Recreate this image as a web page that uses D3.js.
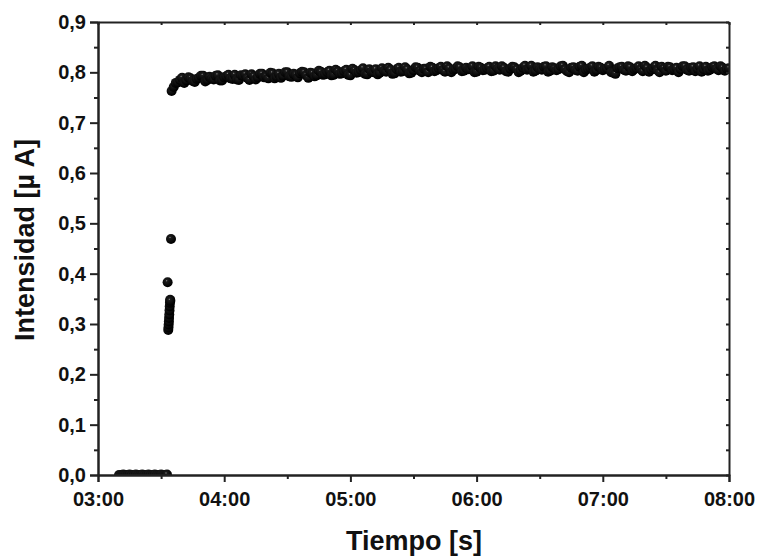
<!DOCTYPE html>
<html lang="es">
<head>
<meta charset="UTF-8">
<title>Intensidad vs Tiempo</title>
<style>
  body { margin: 0; background: #fff; }
  svg { display: block; font-family: "Liberation Sans", Arial, sans-serif; }
  .tick text { font-size: 20px; font-weight: bold; fill: #111; }
  .domain, .tick line { stroke: #222; stroke-width: 2px; }
  .axis-title { font-size: 27px; font-weight: bold; fill: #111; text-anchor: middle; }
</style>
</head>
<body>
<div id="chart"></div>
<script src="https://d3js.org/d3.v7.min.js"></script>
<script>
// tiempo en segundos (03:00 = 180 s)
var xTicks = [180, 240, 300, 360, 420, 480];
var xTickLabels = ["03:00", "04:00", "05:00", "06:00", "07:00", "08:00"];
var yTicks = [0, 0.1, 0.2, 0.3, 0.4, 0.5, 0.6, 0.7, 0.8, 0.9];
var yTickLabels = ["0,0", "0,1", "0,2", "0,3", "0,4", "0,5", "0,6", "0,7", "0,8", "0,9"];

// tramo en cero antes de aplicar la tension
var tBase = [190, 191, 192, 193, 194, 195, 196, 197, 198, 199, 200, 201, 202, 203, 204, 205,
  206, 207, 208, 209, 210, 211, 212, 212.8];
var iBase = [0.000, 0.000, 0.001, 0.000, 0.000, 0.001, 0.000, 0.000, 0.001, 0.000, 0.000, 0.001,
  0.000, 0.000, 0.001, 0.000, 0.000, 0.001, 0.000, 0.000, 0.001, 0.000, 0.000, 0.001];

// subida
var tSalto = [213.1, 213.4, 213.5, 213.6, 213.7, 213.8, 213.9, 214.0, 214.1, 214.2, 214.3, 214.4, 214.7];
var iSalto = [0.383, 0.288, 0.293, 0.299, 0.305, 0.312, 0.319, 0.327, 0.335, 0.342, 0.348, 0.346, 0.469];

// meseta (segundos impares)
var tMeseta = [215, 216, 217, 219, 221, 223, 225, 227, 229, 231, 233, 235, 237, 239, 241, 243, 245,
  247, 249, 251, 253, 255, 257, 259, 261, 263, 265, 267, 269, 271, 273, 275, 277, 279, 281, 283, 285,
  287, 289, 291, 293, 295, 297, 299, 301, 303, 305, 307, 309, 311, 313, 315, 317, 319, 321, 323, 325,
  327, 329, 331, 333, 335, 337, 339, 341, 343, 345, 347, 349, 351, 353, 355, 357, 359, 361, 363, 365,
  367, 369, 371, 373, 375, 377, 379, 381, 383, 385, 387, 389, 391, 393, 395, 397, 399, 401, 403, 405,
  407, 409, 411, 413, 415, 417, 419, 421, 423, 425, 427, 429, 431, 433, 435, 437, 439, 441, 443, 445,
  447, 449, 451, 453, 455, 457, 459, 461, 463, 465, 467, 469, 471, 473, 475, 477, 479];
var iMeseta = [0.763, 0.771, 0.779, 0.785, 0.779, 0.790, 0.783, 0.787, 0.793, 0.782, 0.791, 0.786, 0.794,
  0.784, 0.792, 0.788, 0.795, 0.785, 0.793, 0.789, 0.796, 0.786, 0.797, 0.790, 0.788, 0.798, 0.791,
  0.789, 0.800, 0.792, 0.797, 0.790, 0.801, 0.794, 0.799, 0.792, 0.803, 0.795, 0.800, 0.794, 0.805,
  0.797, 0.802, 0.795, 0.807, 0.799, 0.804, 0.797, 0.806, 0.800, 0.796, 0.808, 0.801, 0.805, 0.798,
  0.809, 0.802, 0.806, 0.799, 0.810, 0.803, 0.807, 0.800, 0.809, 0.804, 0.811, 0.801, 0.808, 0.805,
  0.812, 0.802, 0.809, 0.806, 0.800, 0.811, 0.804, 0.808, 0.802, 0.812, 0.805, 0.809, 0.801, 0.811,
  0.806, 0.803, 0.813, 0.807, 0.801, 0.810, 0.805, 0.812, 0.803, 0.808, 0.806, 0.813, 0.802, 0.809,
  0.805, 0.811, 0.800, 0.807, 0.812, 0.804, 0.809, 0.806, 0.813, 0.799, 0.808, 0.811, 0.803, 0.810,
  0.806, 0.812, 0.802, 0.809, 0.805, 0.813, 0.800, 0.808, 0.811, 0.804, 0.809, 0.806, 0.812, 0.803,
  0.810, 0.807, 0.801, 0.811, 0.805, 0.812, 0.804, 0.809, 0.807];

// meseta (segundos pares)
var tMeseta2 = [218, 220, 222, 224, 226, 228, 230, 232, 234, 236, 238, 240, 242, 244, 246, 248, 250,
  252, 254, 256, 258, 260, 262, 264, 266, 268, 270, 272, 274, 276, 278, 280, 282, 284, 286, 288, 290,
  292, 294, 296, 298, 300, 302, 304, 306, 308, 310, 312, 314, 316, 318, 320, 322, 324, 326, 328, 330,
  332, 334, 336, 338, 340, 342, 344, 346, 348, 350, 352, 354, 356, 358, 360, 362, 364, 366, 368, 370,
  372, 374, 376, 378, 380, 382, 384, 386, 388, 390, 392, 394, 396, 398, 400, 402, 404, 406, 408, 410,
  412, 414, 416, 418, 420, 422, 424, 426, 428, 430, 432, 434, 436, 438, 440, 442, 444, 446, 448, 450,
  452, 454, 456, 458, 460, 462, 464, 466, 468, 470, 472, 474, 476, 478, 480];
var iMeseta2 = [0.780, 0.789, 0.784, 0.788, 0.781, 0.789, 0.793, 0.785, 0.788, 0.793, 0.784, 0.790,
  0.795, 0.787, 0.786, 0.794, 0.796, 0.785, 0.792, 0.790, 0.797, 0.792, 0.799, 0.788, 0.797, 0.793,
  0.800, 0.791, 0.795, 0.798, 0.800, 0.789, 0.798, 0.794, 0.801, 0.796, 0.803, 0.795, 0.802, 0.798,
  0.805, 0.794, 0.804, 0.800, 0.808, 0.796, 0.801, 0.806, 0.799, 0.803, 0.809, 0.797, 0.806, 0.801,
  0.810, 0.798, 0.804, 0.809, 0.800, 0.807, 0.811, 0.802, 0.808, 0.804, 0.812, 0.800, 0.807, 0.810,
  0.803, 0.806, 0.812, 0.801, 0.809, 0.805, 0.811, 0.803, 0.808, 0.812, 0.802, 0.807, 0.810, 0.800,
  0.809, 0.805, 0.813, 0.803, 0.807, 0.811, 0.801, 0.810, 0.804, 0.812, 0.806, 0.800, 0.810, 0.803,
  0.813, 0.805, 0.809, 0.801, 0.811, 0.804, 0.808, 0.800, 0.797, 0.810, 0.805, 0.812, 0.802, 0.808,
  0.806, 0.813, 0.801, 0.809, 0.804, 0.811, 0.803, 0.810, 0.806, 0.800, 0.812, 0.805, 0.809, 0.802,
  0.812, 0.806, 0.803, 0.810, 0.807, 0.812, 0.803, 0.808];

var width = 757, height = 556;
var margin = { left: 98, right: 28, top: 22, bottom: 81 };

var svg = d3.select("#chart").append("svg")
  .attr("width", width)
  .attr("height", height);

var x = d3.scaleLinear().domain([180, 480]).range([margin.left, width - margin.right]);
var y = d3.scaleLinear().domain([0, 0.9]).range([height - margin.bottom, margin.top]);

var xMinor = xTicks.slice(0, -1).map(function(d) { return d + 30; });
var yMinor = yTicks.slice(0, -1).map(function(d) { return d + 0.05; });

// marcador con brillo
var defs = svg.append("defs");
var grad = defs.append("radialGradient").attr("id", "bola")
  .attr("cx", "40%").attr("cy", "35%").attr("r", "60%");
grad.append("stop").attr("offset", "0%").attr("stop-color", "#8a8a8a");
grad.append("stop").attr("offset", "18%").attr("stop-color", "#1c1c1c");
grad.append("stop").attr("offset", "100%").attr("stop-color", "#000");

defs.append("clipPath").attr("id", "plot-clip")
  .append("rect")
  .attr("x", margin.left).attr("y", margin.top)
  .attr("width", x.range()[1] - margin.left)
  .attr("height", y.range()[0] - margin.top);

var puntos = [];
[[tBase, iBase], [tSalto, iSalto], [tMeseta, iMeseta], [tMeseta2, iMeseta2]].forEach(function(s) {
  var n = Math.min(s[0].length, s[1].length);
  for (var i = 0; i < n; i++) puntos.push({ t: s[0][i], v: s[1][i] });
});
puntos.sort(function(a, b) { return a.t - b.t; });

svg.append("g")
  .attr("clip-path", "url(#plot-clip)")
  .selectAll("circle")
  .data(puntos)
  .enter().append("circle")
  .attr("cx", function(d) { return x(d.t); })
  .attr("cy", function(d) { return y(d.v); })
  .attr("r", 5)
  .attr("fill", "url(#bola)");

var fmtX = function(d) { return xTickLabels[xTicks.indexOf(d)]; };
var fmtY = function(d) { return yTickLabels[yTicks.indexOf(d)]; };
var bottomY = y(0), rightX = x(480);

// ejes principales
svg.append("g").attr("transform", "translate(0," + bottomY + ")")
  .call(d3.axisBottom(x).tickValues(xTicks).tickFormat(fmtX).tickSize(7).tickPadding(10));
svg.append("g").attr("transform", "translate(0," + bottomY + ")")
  .call(d3.axisBottom(x).tickValues(xMinor).tickFormat("").tickSize(4).tickSizeOuter(0));
svg.append("g").attr("transform", "translate(" + margin.left + ",0)")
  .call(d3.axisLeft(y).tickValues(yTicks).tickFormat(fmtY).tickSize(8).tickPadding(4));
svg.append("g").attr("transform", "translate(" + margin.left + ",0)")
  .call(d3.axisLeft(y).tickValues(yMinor).tickFormat("").tickSize(4).tickSizeOuter(0));

// marco superior y derecho, marcas hacia dentro
svg.append("g").attr("transform", "translate(0," + margin.top + ")")
  .call(d3.axisTop(x).tickValues(xTicks.concat(xMinor)).tickFormat("").tickSize(-3).tickSizeOuter(0));
svg.append("g").attr("transform", "translate(" + rightX + ",0)")
  .call(d3.axisRight(y).tickValues(yTicks.concat(yMinor)).tickFormat("").tickSize(-3).tickSizeOuter(0));

svg.selectAll(".tick text").attr("font-family", null).attr("font-size", null);

// titulos
svg.append("text").attr("class", "axis-title")
  .attr("x", 414).attr("y", 550)
  .text("Tiempo [s]");
svg.append("text").attr("class", "axis-title")
  .attr("transform", "translate(34,240) rotate(-90)")
  .text("Intensidad [\u00b5 A]");
</script>
</body>
</html>
